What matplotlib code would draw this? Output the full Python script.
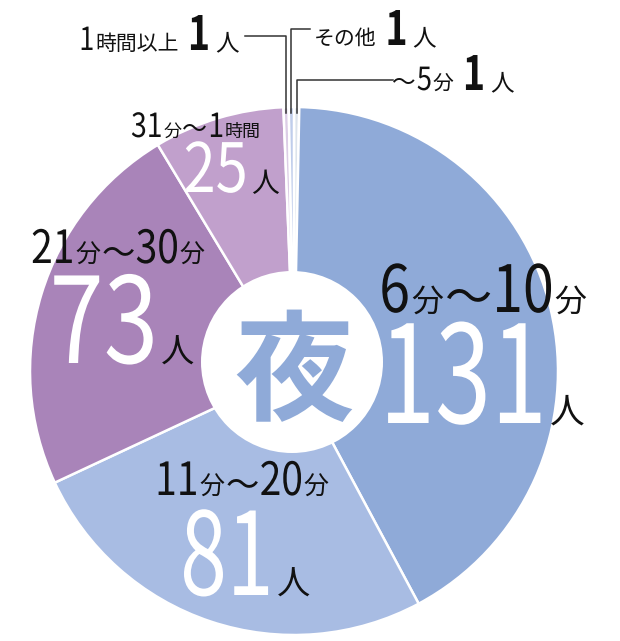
import re
import numpy as np
import matplotlib
matplotlib.use('Agg')
import matplotlib.pyplot as plt
from matplotlib.patches import Circle
from matplotlib.patheffects import AbstractPathEffect
from matplotlib.text import Text
from matplotlib.transforms import Affine2D, Bbox

# データ（夜の通勤時間）
categories = ['〜5分', '6分〜10分', '11分〜20分', '21分〜30分', '31分〜1時間', '1時間以上', 'その他']
counts = [1, 131, 81, 73, 25, 1, 1]
colors = ['#dce3ec', '#8faad8', '#a8bce3', '#a984b9', '#c1a0cc', '#dccde6', '#bfcdeb']
center_word = '夜'

NUM = ['Noto Sans CJK JP']
JP = ['Noto Sans CJK JP']
INK = '#111111'


class Narrow(AbstractPathEffect):
    # 数字を縦長の書体っぽく横方向だけ縮める
    def __init__(self, sx):
        super().__init__()
        self.sx = sx

    def draw_path(self, renderer, gc, tpath, affine, rgbFace=None):
        renderer.draw_path(gc, tpath, Affine2D().scale(self.sx, 1) + affine, rgbFace)


class NarrowText(Text):
    # 縮めた分だけ文字の枠も狭くする（左端基準）
    def __init__(self, *args, sx=1.0, **kw):
        super().__init__(*args, **kw)
        self.sx = sx
        if sx != 1:
            self.set_path_effects([Narrow(sx)])

    def get_window_extent(self, renderer=None, dpi=None):
        bb = super().get_window_extent(renderer, dpi)
        return Bbox.from_extents(bb.x0, bb.y0, bb.x0 + bb.width * self.sx, bb.y1)


fig = plt.figure(figsize=(6.2, 6.41), dpi=100)
ax = fig.add_axes([0, 0, 1, 1])
cx, cy, R = 294, 371, 264
wedges, _ = ax.pie(counts, colors=colors, startangle=-90, counterclock=True,
                   center=(cx, cy), radius=R,
                   wedgeprops=dict(edgecolor='white', linewidth=1.8))
ax.set_xlim(0, 620)
ax.set_ylim(641, 0)
ax.set_aspect('auto')
ax.axis('off')

ax.add_patch(Circle((292, 362), 91, fc='white', ec='none', zorder=3))
ax.text(294, 376, center_word, fontsize=86, family=JP, fontweight='bold',
        color=colors[1], ha='center', va='center', zorder=4)

renderer = fig.canvas.get_renderer()


def row(parts, xc, base):
    # 文字片を横に並べて、全体の中心を xc に合わせる
    texts, x = [], 0
    for s, size, fam, color, weight, gap, sx in parts:
        t = NarrowText(x, base, s, sx=sx, fontsize=size, family=fam, color=color,
                       fontweight=weight, va='baseline', ha='left', zorder=5)
        ax.add_artist(t)
        texts.append(t)
        x += t.get_window_extent(renderer).width + gap
    shift = xc - (x - gap) / 2
    for t in texts:
        t.set_x(t.get_position()[0] + shift)


def split_label(label, dsz, jsz, tsz, color=INK):
    parts = []
    for run in re.findall(r'\d+|〜|[^\d〜]+', label):
        if run.isdigit():
            parts.append((run, dsz, NUM, color, 'normal', 1, 0.85))
        elif run == '〜':
            parts.append((run, tsz, JP, color, 'normal', 1, 1))
        else:
            parts.append((run, jsz, JP, color, 'normal', 1, 1))
    return parts


def count_parts(n, dsz, psz, sx):
    return [(str(n), dsz, NUM, 'white', 'normal', 3, sx),
            ('人', psz, JP, INK, 'normal', 0, 1)]


# 大きい区分
row(split_label(categories[1], 47, 23, 34), 483, 312)
row(count_parts(counts[1], 98, 25, 0.74), 482, 423)
row(split_label(categories[2], 33, 18, 24), 242, 495)
row(count_parts(counts[2], 83, 24, 0.73), 245, 595)
row(split_label(categories[3], 33, 18, 24), 118, 263)
row(count_parts(counts[3], 86, 24, 0.82), 122, 363)
row(split_label(categories[4], 24, 13, 18), 196, 137)
row(count_parts(counts[4], 49, 20, 0.85), 231, 192)

# 小さい区分（引き出し線つき）
small = [(5, 159, 50, 36, 245), (6, 375, 45, 29, 310), (0, 453, 90, 80, 393)]
for i, xc, base, ly, lx in small:
    w = wedges[i]
    mid = np.deg2rad((w.theta1 + w.theta2) / 2)
    px = cx + R * np.cos(mid)
    py = cy + (R - 6) * np.sin(mid)
    ax.plot([lx, px, px], [ly, ly, py], color='#333333', lw=1.1, zorder=6)
    parts = split_label(categories[i], 23, 15, 17)
    parts[-1] = parts[-1][:5] + (9, 1)
    parts += [(str(counts[i]), 34, NUM, INK, 'bold', 5, 0.8),
              ('人', 17, JP, INK, 'normal', 0, 1)]
    row(parts, xc, base)

fig.savefig('out.png', dpi=100)
